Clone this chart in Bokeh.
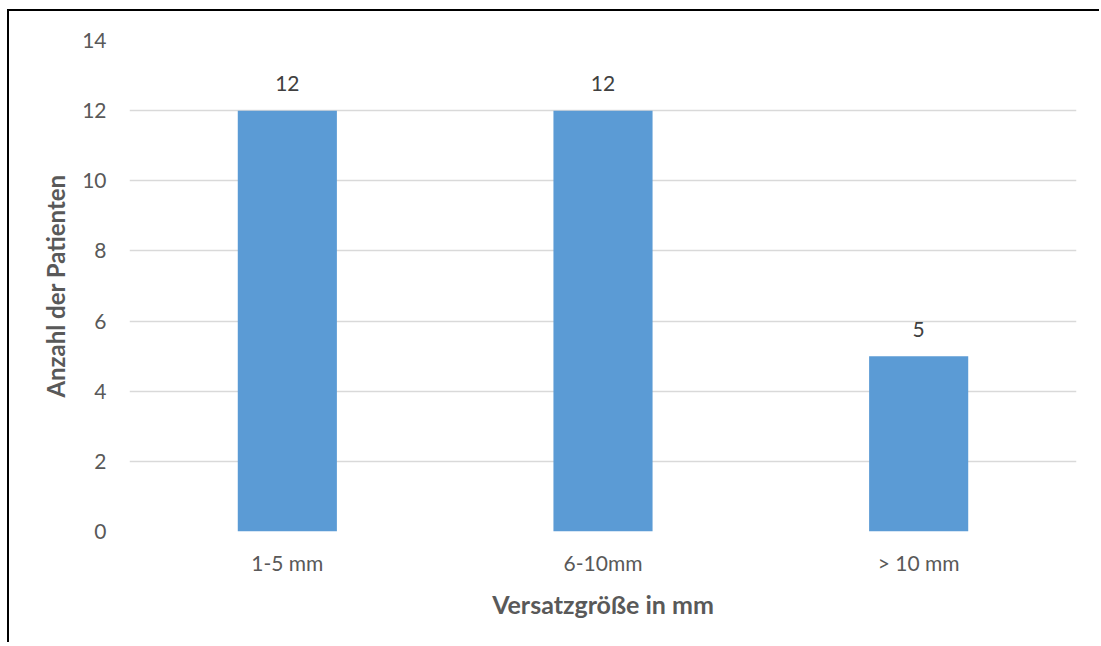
from bokeh.plotting import figure
from bokeh.models import ColumnDataSource, FactorRange, Range1d, FixedTicker
from bokeh.core.properties import value
from bokeh.embed import file_html
from bokeh.resources import INLINE

# Offset size classes and number of patients in each
categories = ["1-5 mm", "6-10mm", "> 10 mm"]
patients = [12, 12, 5]
y_ticks = [0, 2, 4, 6, 8, 10, 12, 14]

FONT = "Lato"
TICK_COLOR = "#595959"
LABEL_COLOR = "#404040"

source = ColumnDataSource(data=dict(
    cat=categories,
    count=patients,
    label=[str(v) for v in patients],
))

p = figure(
    x_range=FactorRange(*categories),
    y_range=Range1d(0, 14),
    width=1092, height=633,
    output_backend="svg", toolbar_location=None,
    min_border_left=120, min_border_right=25,
    min_border_top=29, min_border_bottom=113,
    outline_line_color=None,
)
# chart-area frame: only the top and left edges show
p.styles = {
    "margin-left": "7px", "margin-top": "9px",
    "border-left": "2px solid #000000", "border-top": "2px solid #000000",
}

p.vbar(x="cat", top="count", width=0.314, source=source,
       fill_color="#5B9BD5", line_color=None)

p.text(x="cat", y="count", text="label", source=source,
       text_align="center", text_baseline="alphabetic", y_offset=-27,
       text_font=value(FONT), text_font_size="21px", text_color=LABEL_COLOR)

# grid
p.xgrid.grid_line_color = None
p.ygrid.grid_line_color = "#D9D9D9"
p.ygrid.grid_line_width = 1.5

# y axis
p.yaxis.ticker = FixedTicker(ticks=y_ticks)
p.yaxis.axis_line_color = None
p.yaxis.major_tick_line_color = None
p.yaxis.minor_tick_line_color = None
p.yaxis.major_label_standoff = 17
p.yaxis.major_label_text_font = FONT
p.yaxis.major_label_text_font_size = "21px"
p.yaxis.major_label_text_color = TICK_COLOR
p.yaxis.axis_label = "Anzahl der Patienten"
p.yaxis.axis_label_text_font = FONT
p.yaxis.axis_label_text_font_size = "24px"
p.yaxis.axis_label_text_font_style = "bold"
p.yaxis.axis_label_text_color = TICK_COLOR
p.yaxis.axis_label_standoff = 9

# x axis
p.xaxis.axis_line_color = None
p.xaxis.major_tick_line_color = None
p.xaxis.major_label_standoff = 12
p.xaxis.major_label_text_font = FONT
p.xaxis.major_label_text_font_size = "21px"
p.xaxis.major_label_text_color = TICK_COLOR
p.xaxis.axis_label = "Versatzgröße in mm"
p.xaxis.axis_label_text_font = FONT
p.xaxis.axis_label_text_font_size = "25px"
p.xaxis.axis_label_text_font_style = "bold"
p.xaxis.axis_label_text_color = TICK_COLOR
p.xaxis.axis_label_standoff = 11

open("out.html", "w").write(file_html(p, INLINE))
